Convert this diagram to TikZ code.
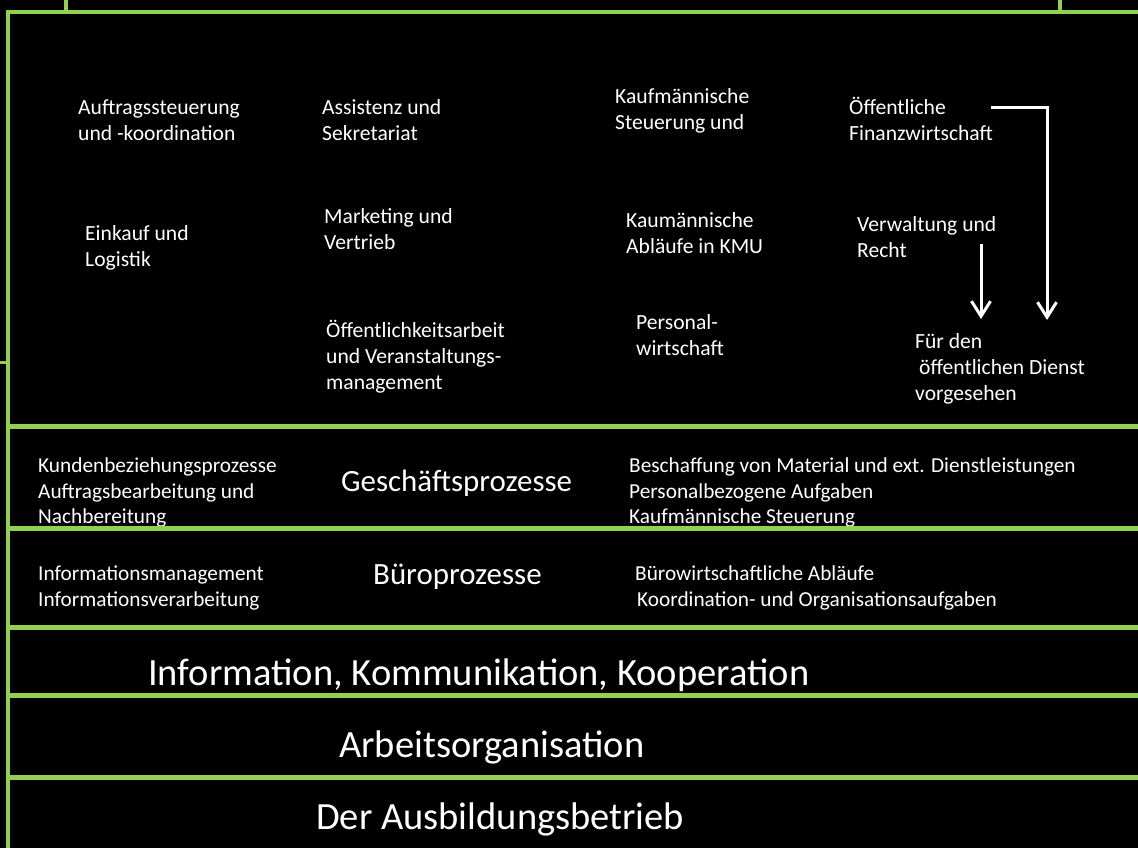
\documentclass[tikz,border=0pt]{standalone}
\usepackage{fontspec}
\setmainfont{Carlito}
\usetikzlibrary{arrows.meta}
\definecolor{offgreen}{RGB}{146,208,80}
\begin{document}
\begin{tikzpicture}[x=1pt,y=-1pt,
  lbl/.style={anchor=base west, inner sep=0pt, align=left, text=white,
    font=\fontsize{21.6}{26}\selectfont},
  rowlbl/.style={lbl, font=\fontsize{21.3}{25.5}\selectfont},
  midlbl/.style={anchor=base west, inner sep=0pt, text=white,
    font=\fontsize{30.9}{36}\selectfont},
  biglbl/.style={anchor=base west, inner sep=0pt, text=white,
    font=\fontsize{38.5}{46}\selectfont},
  sep/.style={draw=offgreen, line width=5pt},
  frame/.style={draw=offgreen, line width=3.5pt},
  wire/.style={draw=white, line width=3pt, line join=miter,
    -{Straight Barb[length=15pt,width=19pt,line width=3pt]}}
]
\useasboundingbox (0,0) rectangle (1138,848);
\fill[black] (0,0) rectangle (1138,848);

% frame lines
\draw[frame] (66,0) -- (66,12);
\draw[frame] (1060,0) -- (1060,12);
\draw[frame] (1138,12) -- (8,12) -- (8,848);
\draw[frame, line width=3pt] (0,362) -- (8,362);

% top area labels (anchor = bottom of last line)
\node[lbl] (n1) at (78,140.8) {Auftragssteuerung\\und -koordination};
\node[lbl] (n2) at (322,140.8) {Assistenz und\\Sekretariat};
\node[lbl] (n3) at (615,129.8) {Kaufmännische\\Steuerung und};
\node[lbl] (n4) at (849,140.8) {Öffentliche\\Finanzwirtschaft};
\node[lbl] (n5) at (85,266.8) {Einkauf und\\Logistik};
\node[lbl] (n6) at (324,249.8) {Marketing und\\Vertrieb};
\node[lbl] (n7) at (626,253.8) {Kaumännische\\Abläufe in KMU};
\node[lbl] (n8) at (857,257.8) {Verwaltung und\\Recht};
\node[lbl] (n9) at (326,389.8) {Öffentlichkeitsarbeit\\und Veranstaltungs-\\management};
\node[lbl] (n10) at (636,355.8) {Personal-\\wirtschaft};
\node[lbl] (n11) at (915,400.8) {Für den\\\hspace*{4pt}öffentlichen Dienst\\vorgesehen};

% arrows
\coordinate (a1s) at (991,108);
\coordinate (a1c) at (1047,108);
\coordinate (a1e) at (1047,320);
\coordinate (a2s) at (981,244);
\coordinate (a2e) at (981,319);
\draw[wire] (a1s) -- (a1c) -- (a1e);
\draw[wire] (a2s) -- (a2e);

% process rows
\node[rowlbl] (r1) at (38,523.6) {Kundenbeziehungsprozesse\\Auftragsbearbeitung und\\Nachbereitung};
\node[midlbl] (r2) at (341,491) {Geschäftsprozesse};
\node[rowlbl] (r3) at (629,523.6) {Beschaffung von Material und ext. Dienstleistungen\\Personalbezogene Aufgaben\\Kaufmännische Steuerung};
\node[rowlbl] (r4) at (38,606.1) {Informationsmanagement\\Informationsverarbeitung};
\node[midlbl] (r5) at (373,584) {Büroprozesse};
\node[rowlbl] (r6) at (635,606.1) {Bürowirtschaftliche Abläufe\\\hspace*{2pt}Koordination- und Organisationsaufgaben};

% bottom layers
\node[biglbl] (b1) at (148,685) {Information, Kommunikation, Kooperation};
\node[biglbl] (b2) at (339,757) {Arbeitsorganisation};
\node[biglbl] (b3) at (316,829) {Der Ausbildungsbetrieb};

% separators (drawn over the text, as in the reference)
\foreach \yy in {426,528,627,695,777}
  \draw[sep] (10,\yy) -- (1138,\yy);
\end{tikzpicture}
\end{document}
